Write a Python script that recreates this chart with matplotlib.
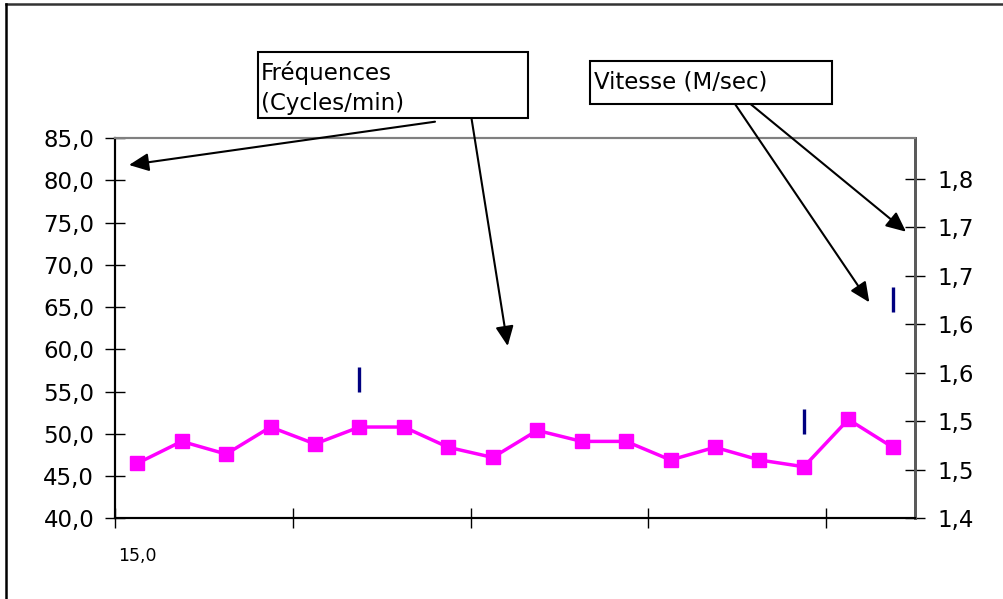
import matplotlib.pyplot as plt
import numpy as np
from matplotlib.lines import Line2D
from matplotlib.patches import Rectangle

plt.rcParams['font.family'] = ['DejaVu Sans']

# data
frequences = [46.5, 49.1, 47.6, 50.8, 48.8, 50.8, 50.8, 48.4, 47.2,
              50.4, 49.1, 49.1, 46.9, 48.4, 46.9, 46.1, 51.7, 48.4]
vitesse = [np.nan] * 18
vitesse[5] = 1.544
vitesse[15] = 1.500
vitesse[17] = 1.626
categories = np.arange(len(frequences))

left_ticks = np.arange(40, 86, 5)
left_labels = ['%.1f' % v for v in left_ticks]
left_labels = [s.replace('.', ',') for s in left_labels]
right_ticks = np.arange(1.40, 1.76, 0.05)
right_labels = ['1,4', '1,5', '1,5', '1,6', '1,6', '1,7', '1,7', '1,8']

W, H = 1004, 599
fig = plt.figure(figsize=(W / 100, H / 100), dpi=100)

def px(x, y):
    return x / W, 1 - y / H

x0, y0 = px(115, 518.3)
x1, y1 = px(915, 138)
ax = fig.add_axes([x0, y0, x1 - x0, y1 - y0])

ax.plot(categories, frequences, color='#FF00FF', lw=2.5, marker='s',
        markersize=10.5, zorder=3)
ax.set_xlim(-0.5, len(frequences) - 0.5)
ax.set_ylim(40, 85)
ax.set_yticks(left_ticks)
ax.set_yticklabels(left_labels)
ax.set_xticks(np.arange(-0.5, len(frequences), 4))
ax.set_xticklabels([])
ax.tick_params(axis='both', direction='inout', length=14, width=1,
               labelsize=16.5, pad=6)
ax.tick_params(axis='y', pad=8)
ax.text(0, -0.075, '15,0', transform=ax.get_xaxis_transform(),
        ha='center', va='top', fontsize=12.5)

ax2 = ax.twinx()
ax2.plot(categories, vitesse, color='#000080', lw=0, marker='|',
         markersize=18, markeredgewidth=2.4)
ax2.set_ylim(1.40, 1.792)
ax2.set_yticks(right_ticks)
ax2.set_yticklabels(right_labels)
ax2.tick_params(axis='y', direction='inout', length=14, width=1,
                labelsize=16.5, pad=9)

for a in (ax, ax2):
    a.spines['left'].set_color('black')
    a.spines['left'].set_linewidth(1.5)
    a.spines['bottom'].set_color('black')
    a.spines['bottom'].set_linewidth(1.5)
    a.spines['top'].set_color('#808080')
    a.spines['top'].set_linewidth(1.5)
    a.spines['right'].set_color('#5a5a5a')
    a.spines['right'].set_linewidth(2)

# outer frame (only top and left visible)
fig.add_artist(Line2D([6 / W, 1], [1 - 3.5 / H] * 2, color='#333333',
                      lw=1.8, transform=fig.transFigure))
fig.add_artist(Line2D([6 / W] * 2, [0, 1 - 3.5 / H], color='black',
                      lw=1.8, transform=fig.transFigure))

# label boxes
def box(xl, yt, xr, yb):
    bx, by = px(xl, yb)
    fig.add_artist(Rectangle((bx, by), (xr - xl) / W, (yb - yt) / H,
                             fill=True, facecolor='white', edgecolor='black',
                             lw=1.5, transform=fig.transFigure, zorder=5))

box(258, 52, 528, 118)
box(590, 61, 832, 104)
fig.text(*px(261, 61), 'Fréquences\n(Cycles/min)', ha='left', va='top',
         fontsize=16.5, linespacing=1.4, zorder=6)
fig.text(*px(594, 82), 'Vitesse (M/sec)', ha='left', va='center',
         fontsize=16.5, zorder=6)

arrows = [((435, 121.7), (129, 165)),
          ((470.6, 112.7), (507.7, 346)),
          ((735, 104), (869.3, 302.3)),
          ((750.5, 104), (906, 231.7))]
for start, tip in arrows:
    fig.add_artist(plt.Annotation('', xy=px(*tip), xytext=px(*start),
                                  xycoords='figure fraction',
                                  textcoords='figure fraction',
                                  arrowprops=dict(arrowstyle='-|>,head_length=1.2,head_width=0.55',
                                                  color='black', lw=1.5,
                                                  shrinkA=0, shrinkB=0)))

fig.savefig('out.png', dpi=100)
